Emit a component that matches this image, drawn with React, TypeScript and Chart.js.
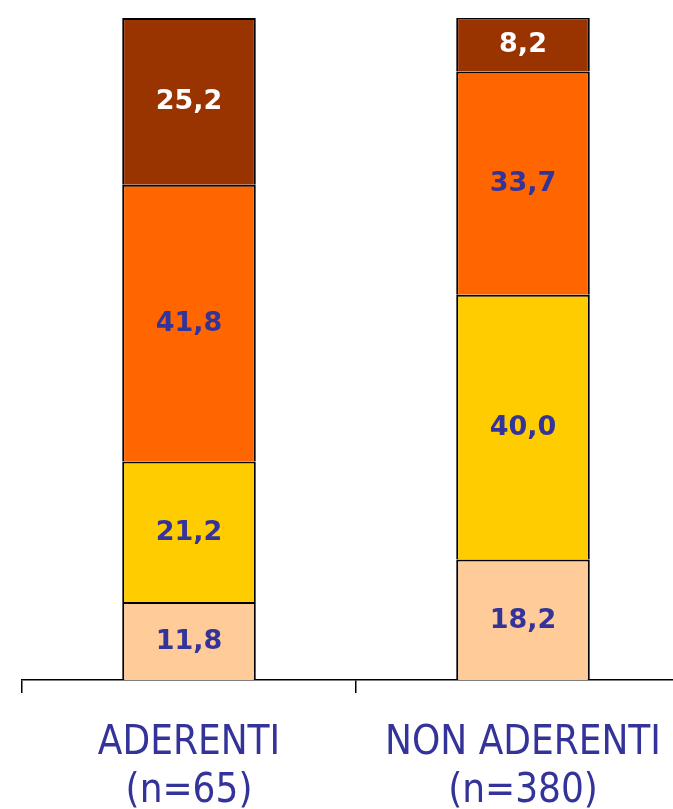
import React, { useEffect, useRef } from "react";
import { Chart, registerables } from "chart.js";

Chart.register(...registerables);

const categories: string[][] = [
  ["ADERENTI", "(n=65)"],
  ["NON ADERENTI", "(n=380)"],
];
const seriesBottom = [11.8, 18.2];
const seriesYellow = [21.2, 40.0];
const seriesOrange = [41.8, 33.7];
const seriesDark = [25.2, 8.2];

const seriesColors = ["#FFCC99", "#FFCC00", "#FF6600", "#993300"];
const labelColors = ["#333399", "#333399", "#333399", "#FFFFFF"];

const valueLabelPlugin = {
  id: "valueLabels",
  afterDatasetsDraw(chart: any) {
    const ctx = chart.ctx;
    ctx.save();
    ctx.font = "bold 27px 'DejaVu Sans', Verdana, sans-serif";
    ctx.textAlign = "center";
    ctx.textBaseline = "middle";
    chart.data.datasets.forEach((ds: any, di: number) => {
      const meta = chart.getDatasetMeta(di);
      meta.data.forEach((bar: any, i: number) => {
        const v = ds.data[i];
        const { x, y, base } = bar.getProps(["x", "y", "base"], true);
        ctx.fillStyle = labelColors[di];
        ctx.fillText(v.toFixed(1).replace(".", ","), x, (y + base) / 2 + 1);
      });
    });
    ctx.restore();
  },
};

export default function App() {
  const ref = useRef<HTMLCanvasElement | null>(null);
  useEffect(() => {
    if (!ref.current) return;
    const series = [seriesBottom, seriesYellow, seriesOrange, seriesDark];
    const chart = new Chart(ref.current, {
      type: "bar",
      data: {
        labels: categories,
        datasets: series.map((d, i) => ({
          label: "s" + i,
          data: d,
          backgroundColor: seriesColors[i],
          borderColor: "#000000",
          borderWidth: 2,
          borderSkipped: "start",
          inflateAmount: 0,
          barPercentage: 1,
          categoryPercentage: 0.4,
        })),
      },
      options: {
        animation: false,
        responsive: false,
        maintainAspectRatio: false,
        layout: { padding: { left: 22, right: 10, top: 18, bottom: 0 } },
        plugins: { legend: { display: false }, tooltip: { enabled: false } },
        scales: {
          x: {
            stacked: true,
            grid: {
              display: true,
              drawOnChartArea: false,
              drawTicks: true,
              tickLength: 13,
              color: "#000000",
              lineWidth: 1.5,
              offset: true,
            },
            border: { display: true, color: "#000000", width: 1.5 },
            ticks: {
              color: "#333399",
              padding: 27,
              font: { family: "'DejaVu Sans Condensed', 'DejaVu Sans', Tahoma, sans-serif", size: 40, lineHeight: 1.2 },
              maxRotation: 0,
              minRotation: 0,
              autoSkip: false,
            },
          },
          y: {
            stacked: true,
            display: false,
            min: 0,
            max: 100,
          },
        },
      },
      plugins: [valueLabelPlugin],
    });
    return () => chart.destroy();
  }, []);
  return (
    <div style={{ position: "fixed", left: 0, top: 0, width: 700, height: 843, background: "#fff" }}>
      <canvas ref={ref} width={700} height={843} style={{ width: 700, height: 843, display: "block" }} />
    </div>
  );
}
